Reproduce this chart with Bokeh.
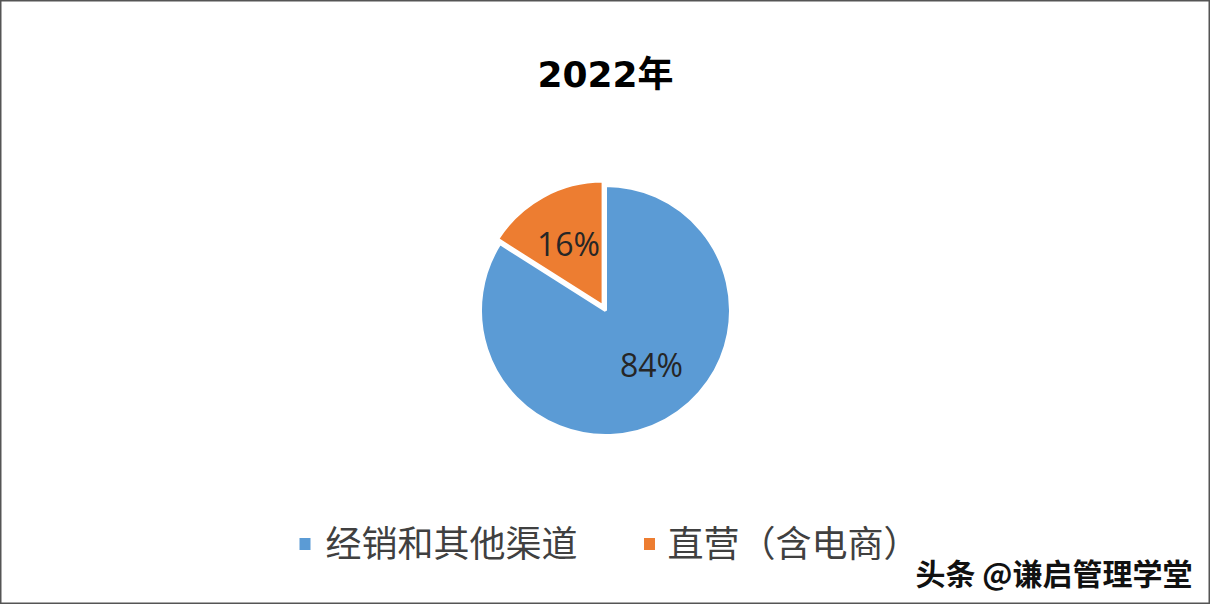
import math
from bokeh.plotting import figure
from bokeh.models import Range1d, ColumnDataSource
from bokeh.core.properties import value
from bokeh.embed import file_html
from bokeh.resources import INLINE

# ---- data ----
title_text = "2022年"
categories = ["经销和其他渠道", "直营（含电商）"]
shares = [84, 16]
labels = ["84%", "16%"]
colors = ["#5B9BD5", "#ED7D31"]
watermark = "头条 @谦启管理学堂"

# ---- layout (reference pixel space; y measured from top) ----
W, H = 1210, 604
def Y(y):
    return H - y

cx, cy, R = 605, 310, 125
explode = [0, 5]
label_pos = [(651, 364), None]  # None -> on bisector
label_r = 77

p = figure(width=W, height=H, x_range=Range1d(0, W), y_range=Range1d(0, H),
           output_backend="svg", toolbar_location=None, min_border=0)
p.axis.visible = False
p.grid.visible = False
p.outline_line_color = "#555555"
p.outline_line_width = 2
p.background_fill_color = "white"
p.border_fill_color = "white"

total = float(sum(shares))
start = math.pi / 2
xs, ys, sa, ea, lx, ly = [], [], [], [], [], []
for i, v in enumerate(shares):
    span = 2 * math.pi * v / total
    end = start - span
    mid = (start + end) / 2
    xs.append(cx + explode[i] * math.cos(mid))
    ys.append(Y(cy) + explode[i] * math.sin(mid))
    sa.append(start)
    ea.append(end)
    if label_pos[i] is None:
        lx.append(cx + label_r * math.cos(mid))
        ly.append(Y(cy) + label_r * math.sin(mid))
    else:
        lx.append(label_pos[i][0])
        ly.append(Y(label_pos[i][1]))
    start = end

src = ColumnDataSource(dict(x=xs, y=ys, sa=sa, ea=ea, color=colors, lx=lx, ly=ly, label=labels))
p.wedge(x="x", y="y", radius=R, radius_units="screen", start_angle="sa", end_angle="ea",
        direction="clock", fill_color="color", line_color="white", line_width=3, source=src)
p.text(x="lx", y="ly", text="label", source=src, text_align="center", text_baseline="middle",
       text_font=value("Open Sans"), text_font_size="32px", text_color="#262626")

# title
p.text(x=[605], y=[Y(74)], text=[title_text], text_align="center", text_baseline="middle",
       text_font=value("DejaVu Sans, Noto Sans CJK SC"), text_font_size="36px",
       text_font_style="bold", text_color="#000000")

# legend
sq_x = [304.5, 649]
txt_x = [325, 667]
leg_y = Y(543.5)
p.rect(x=sq_x, y=[leg_y] * 2, width=11, height=12, width_units="screen", height_units="screen",
       fill_color=colors, line_color=None)
p.text(x=txt_x, y=[Y(540)] * 2, text=categories, text_align="left", text_baseline="middle",
       text_font=value("Noto Sans CJK SC"), text_font_size="36px", text_color="#404040")

# watermark
p.text(x=[1192], y=[Y(571)], text=[watermark], text_align="right", text_baseline="middle",
       text_font=value("Noto Sans CJK SC"), text_font_size="30px", text_font_style="bold",
       text_color="#111111")

open("out.html", "w").write(file_html(p, INLINE))
